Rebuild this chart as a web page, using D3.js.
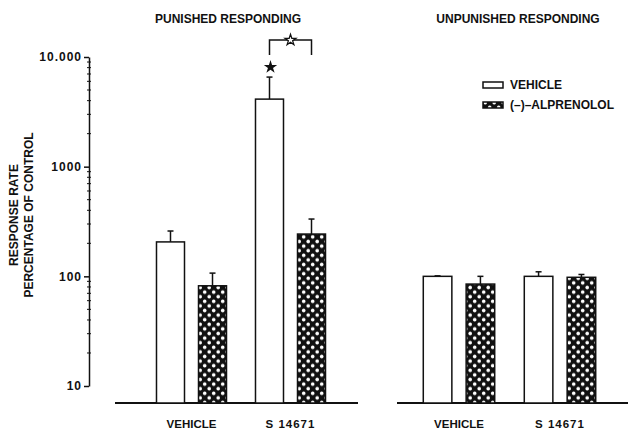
<!DOCTYPE html>
<html>
<head>
<meta charset="utf-8">
<script src="https://cdn.jsdelivr.net/npm/d3@7"></script>
<style>
    body { margin: 0; background: #fff; }
    svg text { font-family: "Liberation Sans", Arial, sans-serif; font-weight: bold; fill: #111; }
</style>
</head>
<body>
<div id="chart"></div>
<script>
const panelTitles = ["PUNISHED RESPONDING", "UNPUNISHED RESPONDING"];
const groups = ["VEHICLE", "S 14671"];
const seriesNames = ["VEHICLE", "(\u2013)\u2013ALPRENOLOL"];

// mean response rate (% of control), per group
const punishedVehicle = [206, 4130];
const punishedVehicleSem = [53, 2430];
const punishedAlprenolol = [82, 243];
const punishedAlprenololSem = [25, 90];
const unpunishedVehicle = [100, 100];
const unpunishedVehicleSem = [1, 10];
const unpunishedAlprenolol = [85, 98];
const unpunishedAlprenololSem = [15, 6];

const yTicks = [10, 100, 1000, 10000];
const yTickLabels = ["10", "100", "1000", "10.000"];

const chartApp = (() => {
    const width = 630, height = 434;
    const baseY = 403;
    const axisX = 89;

    const svg = d3.select("#chart").append("svg")
        .attr("width", width)
        .attr("height", height);

    const defs = svg.append("defs");
    const pat = defs.append("pattern")
        .attr("id", "dots")
        .attr("patternUnits", "userSpaceOnUse")
        .attr("width", 9)
        .attr("height", 9.2);
    pat.append("rect").attr("width", 9).attr("height", 9.2).attr("fill", "#111");
    pat.append("circle").attr("cx", 2.2).attr("cy", 2.3).attr("r", 1.8).attr("fill", "#fff");
    pat.append("circle").attr("cx", 6.7).attr("cy", 6.9).attr("r", 1.8).attr("fill", "#fff");

    const y = d3.scaleLog().domain([10, 10000]).range([386, 57]);

    // y axis with major and minor ticks
    const yAxis = svg.append("g")
        .attr("transform", `translate(${axisX},0)`)
        .call(d3.axisLeft(y)
            .tickValues(yTicks)
            .tickFormat((d, i) => yTickLabels[i])
            .tickSize(5)
            .tickSizeOuter(0)
            .tickPadding(2));
    yAxis.select(".domain").attr("stroke", "#111").attr("stroke-width", 1.5);
    yAxis.selectAll(".tick line").attr("stroke", "#111").attr("stroke-width", 1.5);
    yAxis.selectAll(".tick text")
        .style("font-size", "12px")
        .style("letter-spacing", "1px")
        .attr("fill", "#111");

    const minor = y.ticks().filter(v => !yTicks.includes(v));
    svg.append("g").selectAll("line")
        .data(minor)
        .join("line")
        .attr("x1", axisX - 2)
        .attr("x2", axisX + 2)
        .attr("y1", d => y(d))
        .attr("y2", d => y(d))
        .attr("stroke", "#111")
        .attr("stroke-width", 1);

    // y label
    const yLabel = svg.append("g")
        .attr("transform", "translate(0,215) rotate(-90)");
    yLabel.append("text")
        .attr("x", 0).attr("y", 18)
        .attr("text-anchor", "middle")
        .style("font-size", "12px")
        .text("RESPONSE RATE");
    yLabel.append("text")
        .attr("x", 0).attr("y", 33)
        .attr("text-anchor", "middle")
        .style("font-size", "12px")
        .text("PERCENTAGE OF CONTROL");

    const panels = [
        {
            title: panelTitles[0], titleX: 228, band: [142, 340], base: [115, 358],
            means: [punishedVehicle, punishedAlprenolol],
            sems: [punishedVehicleSem, punishedAlprenololSem]
        },
        {
            title: panelTitles[1], titleX: 518, band: [408.5, 610.5], base: [397, 628],
            means: [unpunishedVehicle, unpunishedAlprenolol],
            sems: [unpunishedVehicleSem, unpunishedAlprenololSem]
        }
    ];

    const inner = d3.scaleBand()
        .domain(d3.range(seriesNames.length))
        .paddingInner(1 / 3)
        .paddingOuter(0.345);

    const barPos = [];

    panels.forEach((p) => {
        const x = d3.scaleBand().domain(groups).range(p.band);
        inner.range([0, x.bandwidth()]);
        const g = svg.append("g");

        g.append("text")
            .attr("x", p.titleX)
            .attr("y", 23)
            .attr("text-anchor", "middle")
            .style("font-size", "12px")
            .text(p.title);

        g.append("line")
            .attr("x1", p.base[0]).attr("x2", p.base[1])
            .attr("y1", baseY).attr("y2", baseY)
            .attr("stroke", "#111")
            .attr("stroke-width", 2);

        const bars = [];
        groups.forEach((grp, gi) => {
            seriesNames.forEach((s, si) => {
                bars.push({
                    x: x(grp) + inner(si),
                    w: inner.bandwidth(),
                    v: p.means[si][gi],
                    e: p.means[si][gi] + p.sems[si][gi],
                    si, gi
                });
            });
        });
        barPos.push(bars);

        // error bars
        const err = g.append("g").selectAll("g")
            .data(bars)
            .join("g")
            .attr("stroke", "#111")
            .attr("stroke-width", 1.5);
        err.append("line")
            .attr("x1", d => d.x + d.w / 2).attr("x2", d => d.x + d.w / 2)
            .attr("y1", d => y(d.v)).attr("y2", d => y(d.e));
        err.append("line")
            .attr("x1", d => d.x + d.w / 2 - 3).attr("x2", d => d.x + d.w / 2 + 3)
            .attr("y1", d => y(d.e)).attr("y2", d => y(d.e));

        g.append("g").selectAll("rect")
            .data(bars)
            .join("rect")
            .attr("x", d => d.x)
            .attr("y", d => y(d.v))
            .attr("width", d => d.w)
            .attr("height", d => baseY - y(d.v))
            .attr("fill", d => d.si === 0 ? "#fff" : "url(#dots)")
            .attr("stroke", "#111")
            .attr("stroke-width", 1.5);

        g.append("g").selectAll("text")
            .data(groups)
            .join("text")
            .attr("x", d => x(d) + x.bandwidth() / 2)
            .attr("y", 428)
            .attr("text-anchor", "middle")
            .style("font-size", "11.5px")
            .style("letter-spacing", d => /\d/.test(d) ? "1px" : "0px")
            .text(d => d);
    });

    // significance marks over punished S 14671
    const sv = barPos[0].find(b => b.gi === 1 && b.si === 0);
    const sa = barPos[0].find(b => b.gi === 1 && b.si === 1);
    const starY = y(sv.e) - 10;
    const brY = starY - 27;
    const x1 = sv.x + sv.w / 2, x2 = sa.x + sa.w / 2;

    svg.append("path")
        .attr("d", d3.symbol(d3.symbolStar, 55)())
        .attr("transform", `translate(${x1 + 1},${starY})`)
        .attr("fill", "#111");

    svg.append("path")
        .attr("d", `M${x1},${brY + 15}V${brY}H${x2}V${brY + 15}`)
        .attr("fill", "none")
        .attr("stroke", "#111")
        .attr("stroke-width", 1.5);

    svg.append("path")
        .attr("d", d3.symbol(d3.symbolStar, 38)())
        .attr("transform", `translate(${(x1 + x2) / 2},${brY})`)
        .attr("fill", "#fff")
        .attr("stroke", "#111")
        .attr("stroke-width", 1.2);

    // legend
    const legend = svg.append("g").attr("transform", "translate(483,82)");
    legend.selectAll("rect")
        .data(seriesNames)
        .join("rect")
        .attr("x", 0)
        .attr("y", (d, i) => i * 20)
        .attr("width", 20)
        .attr("height", 6)
        .attr("fill", (d, i) => i === 0 ? "#fff" : "url(#dots)")
        .attr("stroke", "#111")
        .attr("stroke-width", 1.5);
    legend.selectAll("text")
        .data(seriesNames)
        .join("text")
        .attr("x", 27)
        .attr("y", (d, i) => i * 20 + 7)
        .style("font-size", "12px")
        .text(d => d);
})();
</script>
</body>
</html>
